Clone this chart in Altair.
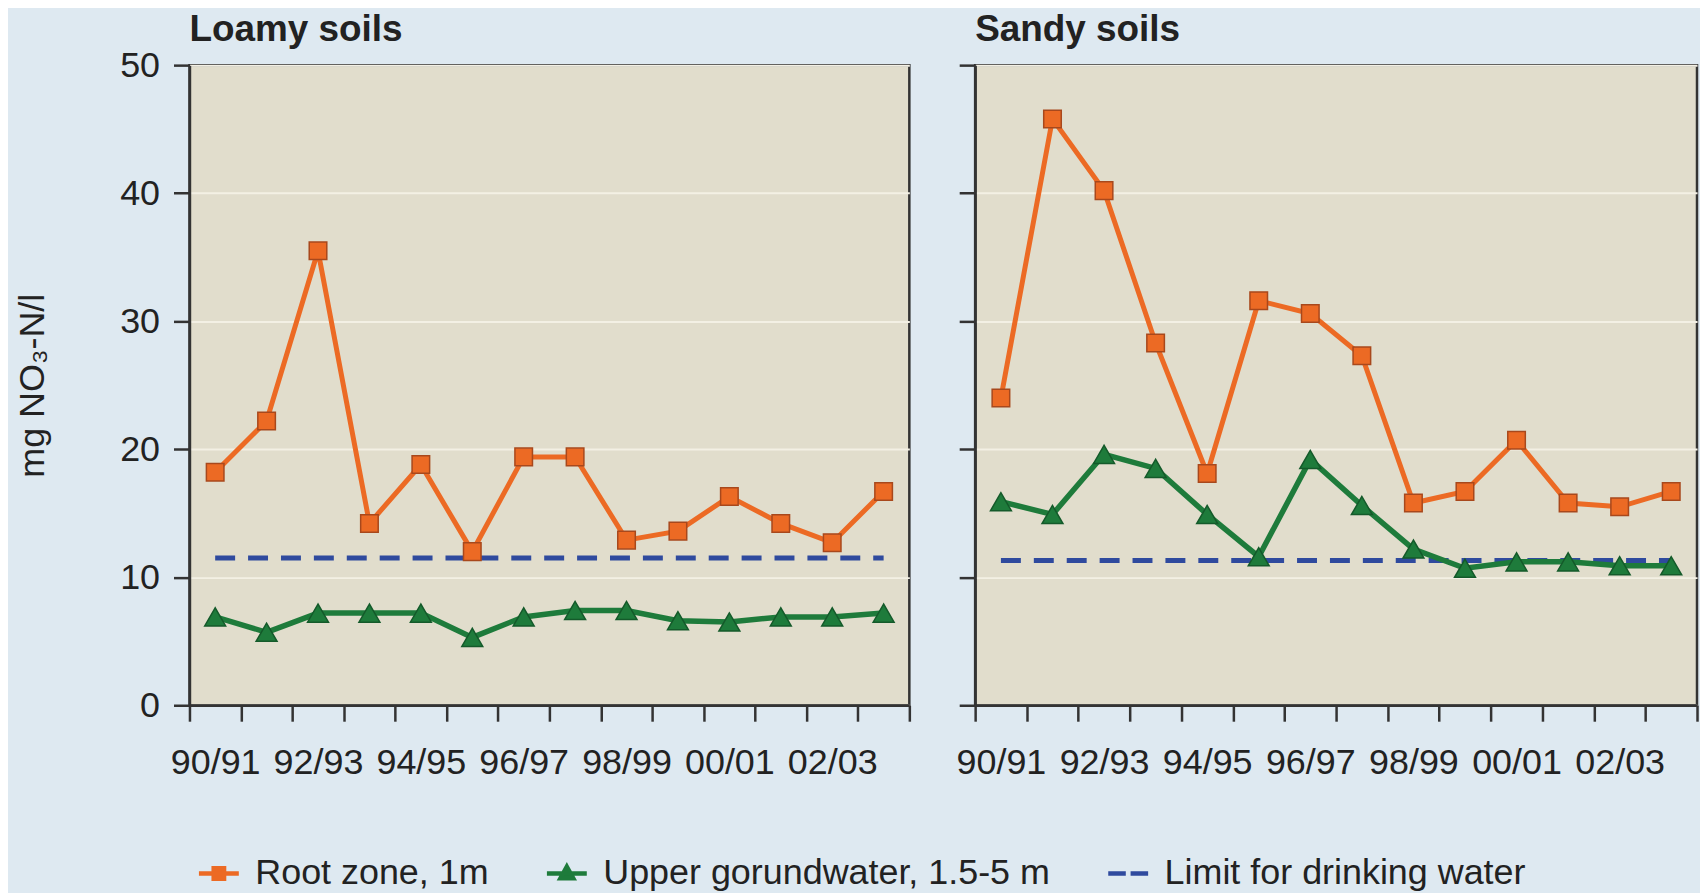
import json
import altair as alt
import pandas as pd

# ---------------- data ----------------
seasons = ["90/91", "91/92", "92/93", "93/94", "94/95", "95/96", "96/97",
           "97/98", "98/99", "99/00", "00/01", "01/02", "02/03", "03/04"]
tick_labels = ["90/91", "92/93", "94/95", "96/97", "98/99", "00/01", "02/03"]
series_names = ["Root zone, 1m", "Upper gorundwater, 1.5-5 m", "Limit for drinking water"]

loamy_root = [18.2, 22.2, 35.5, 14.2, 18.8, 12.0, 19.4, 19.4, 12.9, 13.6, 16.3, 14.2, 12.7, 16.7]
loamy_ground = [6.9, 5.7, 7.2, 7.2, 7.2, 5.3, 6.9, 7.4, 7.4, 6.6, 6.5, 6.9, 6.9, 7.2]
sandy_root = [24.0, 45.8, 40.2, 28.3, 18.1, 31.6, 30.6, 27.3, 15.8, 16.7, 20.7, 15.8, 15.5, 16.7]
sandy_ground = [15.9, 14.9, 19.6, 18.5, 14.9, 11.6, 19.2, 15.6, 12.2, 10.7, 11.2, 11.2, 10.9, 10.9]
loamy_limit = 11.5
sandy_limit = 11.3

# ---------------- styles ----------------
ORANGE = "#ec6a24"
ORANGE_DARK = "#a8481c"
GREEN = "#1e7b3b"
GREEN_DARK = "#145a2a"
BLUE = "#2f4a9e"
INK = "#222222"
FRAME = "#333333"
FONT = "Liberation Sans, Arial, Helvetica, sans-serif"

legend_paths = [
    "M-1,0H1M-0.26,-0.26H0.26V0.26H-0.26Z",
    "M-1,0H1M0,-0.34L0.32,0.24H-0.32Z",
    "M-1,0H-0.12M0.12,0H1",
]

label_expr = "indexof(%s, datum.value) >= 0 ? datum.value : ''" % json.dumps(tick_labels)


def x_enc():
    return alt.X(
        "season:N",
        sort=seasons,
        bandPosition=0.5,
        scale=alt.Scale(type="band", domain=seasons, paddingInner=0, paddingOuter=0),
        axis=alt.Axis(
            title=None, tickBand="extent", labelExpr=label_expr, labelAngle=0,
            labelFontSize=36, labelFont=FONT, labelColor=INK, labelPadding=24,
            tickSize=16, tickWidth=2.5, tickColor=FRAME,
            domainColor=FRAME, domainWidth=2.5, grid=False,
        ),
    )


def y_enc(show_labels):
    axis_kw = dict(
        values=[0, 10, 20, 30, 40, 50], tickSize=16, tickWidth=2.5, tickColor=FRAME,
        domainColor=FRAME, domainWidth=2.5, grid=True, gridColor="#f3f0e4", gridWidth=2,
        labelFontSize=36, labelFont=FONT, labelColor=INK, labelPadding=14,
        labels=show_labels,
    )
    if show_labels:
        axis_kw.update(title="mg NO₃-N/l", titleFontSize=36, titleFont=FONT,
                       titleFontWeight="normal", titleColor=INK, titlePadding=68)
    else:
        axis_kw.update(title=None)
    return alt.Y("value:Q", scale=alt.Scale(domain=[0, 50], nice=False, zero=True),
                 axis=alt.Axis(**axis_kw))


def panel(title, root, ground, limit, show_labels, with_legend, width, title_offset):
    root_df = pd.DataFrame({"season": seasons, "value": root, "series": series_names[0]})
    ground_df = pd.DataFrame({"season": seasons, "value": ground, "series": series_names[1]})
    limit_df = pd.DataFrame({"season": [seasons[0], seasons[-1]], "value": [limit, limit],
                             "series": series_names[2]})

    limit_line = alt.Chart(limit_df).mark_line(
        color=BLUE, strokeWidth=5, strokeDash=[20, 13]
    ).encode(x=x_enc(), y=y_enc(show_labels))
    root_line = alt.Chart(root_df).mark_line(color=ORANGE, strokeWidth=5).encode(
        x=x_enc(), y=y_enc(show_labels))
    ground_line = alt.Chart(ground_df).mark_line(color=GREEN, strokeWidth=5.5).encode(
        x=x_enc(), y=y_enc(show_labels))
    root_pts = alt.Chart(root_df).mark_point(
        shape="square", size=310, filled=True, fill=ORANGE, stroke=ORANGE_DARK,
        strokeWidth=1.5, opacity=1
    ).encode(x=x_enc(), y=y_enc(show_labels))
    ground_pts = alt.Chart(ground_df).mark_point(
        shape="triangle-up", size=440, filled=True, fill=GREEN, stroke=GREEN_DARK,
        strokeWidth=1.5, opacity=1
    ).encode(x=x_enc(), y=y_enc(show_labels))

    layers = [limit_line, root_line, ground_line, root_pts, ground_pts]

    if with_legend:
        leg_df = pd.concat([root_df, ground_df], ignore_index=True)
        leg = dict(title=None, orient="none", legendX=7, legendY=788, direction="horizontal",
                   columns=3, columnPadding=48, symbolSize=1600, symbolStrokeWidth=4.5,
                   labelFontSize=36, labelFont=FONT, labelColor=INK, labelLimit=1000,
                   labelOffset=14)
        legend_layer = alt.Chart(leg_df).mark_point(
            size=0, filled=True, strokeWidth=4.5, opacity=1
        ).encode(
            x=x_enc(), y=y_enc(show_labels),
            fill=alt.Fill("series:N", scale=alt.Scale(domain=series_names, range=[ORANGE, GREEN, BLUE]),
                          legend=alt.Legend(**leg)),
            stroke=alt.Stroke("series:N", scale=alt.Scale(domain=series_names, range=[ORANGE, GREEN, BLUE]),
                              legend=alt.Legend(**leg)),
            shape=alt.Shape("series:N", scale=alt.Scale(domain=series_names, range=legend_paths),
                            legend=alt.Legend(**leg)),
        )
        layers.append(legend_layer)

    return alt.layer(*layers).properties(
        width=width, height=642,
        title=alt.TitleParams(title, anchor="start", frame="group", fontSize=37, font=FONT,
                              fontWeight="bold", color=INK, offset=title_offset),
    )


left = panel("Loamy soils", loamy_root, loamy_ground, loamy_limit, True, True, 722, -2)
right = panel("Sandy soils", sandy_root, sandy_ground, sandy_limit, False, False, 724, 15)

chart = alt.hconcat(left, right, spacing=42).properties(
    background="#dee9f1",
    padding={"left": 5, "top": 0, "right": 0, "bottom": 0},
).configure_view(
    stroke=FRAME, strokeWidth=2.5, fill="#e1ddcc"
)

chart.save("out.html", embed_options={"renderer": "svg", "actions": False})
